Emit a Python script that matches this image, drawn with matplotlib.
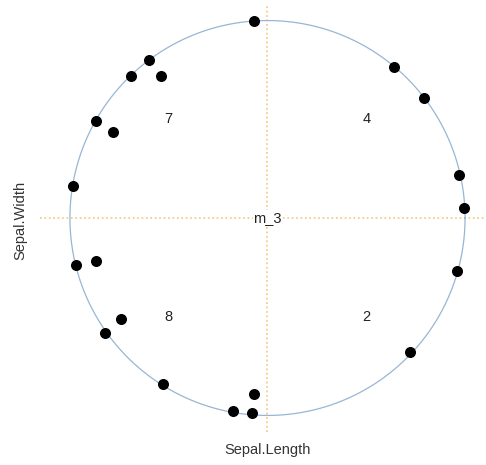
import matplotlib.pyplot as plt
import numpy as np

plt.rcParams["font.family"] = ["Liberation Sans", "DejaVu Sans"]

# variable coordinates on the unit circle
point_x = [-0.07, -0.60, -0.69, -0.54, 0.64, 0.79, -0.87, -0.78, -0.985, 0.97, 0.995,
           -0.97, -0.87, -0.74, -0.82, 0.96, 0.72, -0.53, -0.07, -0.175, -0.08]
point_y = [1.00, 0.80, 0.72, 0.72, 0.765, 0.61, 0.49, 0.435, 0.16, 0.22, 0.05,
           -0.24, -0.22, -0.51, -0.58, -0.27, -0.68, -0.84, -0.89, -0.98, -0.99]

quadrant_labels = ["7", "4", "8", "2"]
quadrant_x = [-0.5, 0.5, -0.5, 0.5]
quadrant_y = [0.5, 0.5, -0.5, -0.5]

center_label = "m_3"
x_label = "Sepal.Length"
y_label = "Sepal.Width"

fig = plt.figure(figsize=(4.86, 4.65), dpi=100)
ax = fig.add_axes([0, 0, 1, 1])
ax.set_xlim(-1.354, 1.106)
ax.set_ylim(-1.251, 1.104)
ax.axis("off")

t = np.linspace(0, 2 * np.pi, 400)
ax.plot(np.cos(t), np.sin(t), color="#98b6d4", linewidth=0.9, zorder=1)

ax.plot([-1.15, 1.106], [0, 0], color="#f2c77c", linestyle=":", linewidth=1.2, zorder=0)
ax.plot([0, 0], [-1.085, 1.08], color="#f2c77c", linestyle=":", linewidth=1.2, zorder=0)

ax.scatter(point_x, point_y, s=48, color="black", zorder=3)

for lab, x, y in zip(quadrant_labels, quadrant_x, quadrant_y):
    ax.text(x, y, lab, ha="center", va="center", fontsize=10.5, color="#222222")

ax.text(0, 0, center_label, ha="center", va="center", fontsize=10.5, color="#222222",
        bbox=dict(facecolor="white", edgecolor="none", pad=0.5))

ax.text(0, -1.175, x_label, ha="center", va="center", fontsize=10.5, color="#333333")
ax.text(-1.25, -0.01, y_label, ha="center", va="center", rotation=90, fontsize=10.5,
        color="#333333")

fig.savefig("out.png", dpi=100)
